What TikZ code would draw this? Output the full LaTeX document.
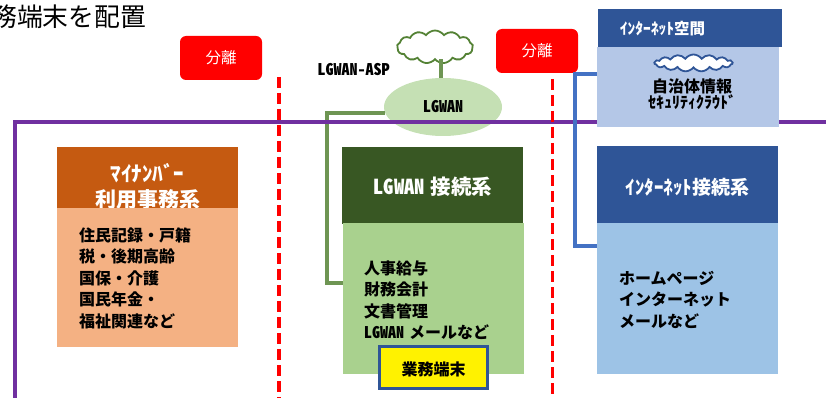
\documentclass[tikz,border=0pt]{standalone}
\usepackage{fontspec}
\usetikzlibrary{shapes.geometric,shapes.symbols}
\setmainfont{Noto Sans CJK JP}
\newfontfamily\jp[RawFeature=+hwid]{Noto Sans CJK JP}
\newcommand{\fs}[2]{\fontsize{#1}{#2}\selectfont}
\definecolor{purp}{HTML}{7030A0}
\definecolor{navy}{HTML}{2F5597}
\definecolor{dgreen}{HTML}{385723}
\definecolor{mgreen}{HTML}{548235}
\definecolor{lgreen}{HTML}{A9D18E}
\definecolor{pgreen}{HTML}{C5E0B4}
\definecolor{dorange}{HTML}{C55A11}
\definecolor{lorange}{HTML}{F4B183}
\definecolor{sky}{HTML}{B4C7E7}
\definecolor{lblue}{HTML}{9DC3E6}
\definecolor{cblue}{HTML}{4472C4}
\tikzset{
  box/.style={rectangle,draw=none,inner sep=0pt,outer sep=0pt},
  badge/.style={rectangle,rounded corners=6pt,fill=red,text=white,inner sep=0pt,minimum width=82pt,minimum height=44pt,font=\jp\fs{15.5}{15.5}},
  sep/.style={red,line width=3.4pt,dash pattern=on 11pt off 5pt},
  bodytxt/.style={anchor=north west,inner sep=0pt,align=left,text=black,font=\jp\bfseries\fs{16}{21.5}},
  headtxt/.style={inner sep=0pt,text=white,align=center,font=\jp\bfseries\fs{20.5}{25}},
  net/.style={cloud,cloud puffs=13,cloud puff arc=110,aspect=2.4,fill=white,inner sep=0pt,outer sep=0pt},
}
\begin{document}
\begin{tikzpicture}[x=1pt,y=-1pt]
\useasboundingbox (0,0) rectangle (826,398);
% title
\node[anchor=west,inner sep=0pt,font=\jp\fs{25.8}{26}] (title) at (-9,17) {務端末を配置};
% badges
\node[badge] (sep1) at (221,58) {\raisebox{1pt}{分離}};
\node[badge] (sep2) at (537,51) {\raisebox{1pt}{分離}};
% LGWAN network
\node[ellipse,fill=pgreen,draw=none,minimum width=118pt,minimum height=58pt,inner sep=0pt,outer sep=0pt] (lgwan) at (443,107) {};
\node[net,draw=mgreen,line width=1.8pt,minimum width=76pt,minimum height=33pt] (asp) at (435,47) {};
\coordinate (st) at (441,70);
\draw[mgreen!85!white,line width=4pt] (asp.south -| st) -- (lgwan.north -| st);
\node[inner sep=0pt,font=\jp\bfseries\fs{16}{16}] (lgwanlbl) at (443,107) {LGWAN};
\node[inner sep=0pt,font=\jp\bfseries\fs{16}{16}] (asplbl) at (353.5,70) {LGWAN-ASP};
% green connector
\coordinate (gturn) at (327,283);
\node[box,fill=lgreen,minimum width=181pt,minimum height=151pt] (gbody) at (433.5,298.5) {};
\draw[mgreen!85!white,line width=4pt] (lgwan.186) -| (gturn) -- (gbody.west |- gturn);
% boundary
\coordinate (pa) at (826,122);
\coordinate (pb) at (15,122);
\coordinate (pc) at (15,398);
\draw[purp,line width=4pt] (pa) -- (pb) -- (pc);
% separators
\coordinate (d1a) at (279,77);
\coordinate (d1b) at (279,398);
\coordinate (d2a) at (552.5,79);
\coordinate (d2b) at (552.5,398);
\draw[sep] (d1a) -- (d1b);
\draw[sep] (d2a) -- (d2b);
% my number
\node[box,fill=dorange,minimum width=181pt,minimum height=61pt] (ohead) at (147.5,177.5) {};
\node[headtxt,font=\jp\bfseries\fs{21}{26.5}] (ohtxt) at (147.5,186.5) {ﾏｲﾅﾝﾊﾞｰ\\利用事務系};
\node[box,fill=lorange,minimum width=181pt,minimum height=139pt] (obody) at (147.5,277.5) {};
\node[bodytxt] (otxt) at (79,227.5) {住民記録・戸籍\\税・後期高齢\\国保・介護\\国民年金・\\福祉関連など};
% LGWAN zone
\node[box,fill=dgreen,minimum width=181pt,minimum height=77pt] (ghead) at (432.5,185.5) {};
\node[box,fill=lgreen,minimum width=181pt,minimum height=151pt] (gbody2) at (433.5,298.5) {};
\node[headtxt] (ghtxt) at (433,187) {LGWAN\hspace{6pt}接続系};
\node[bodytxt] (gtxt) at (364,260.5) {人事給与\\財務会計\\文書管理\\LGWAN\hspace{5pt}メールなど};
\node[box,fill=yellow,draw=navy,line width=2.5pt,minimum width=108pt,minimum height=42pt] (term) at (433.5,367.5) {};
\node[inner sep=0pt,font=\jp\bfseries\fs{16}{16}] (termtxt) at (433.5,369) {業務端末};
% internet space
\node[box,fill=navy,minimum width=184pt,minimum height=38pt] (ihead) at (690,28) {};
\node[box,fill=sky,minimum width=182pt,minimum height=80pt] (ibody) at (688,87) {};
\node[inner sep=0pt,text=white,font=\jp\bfseries\fs{15.5}{16}] (ihtxt) at (662.5,29) {ｲﾝﾀｰﾈｯﾄ空間};
\node[net,draw=navy,line width=1.8pt,minimum width=78pt,minimum height=17pt,aspect=4.5,cloud puffs=15] (scloud) at (693.5,63) {};
\node[inner sep=0pt,align=center,text=black,font=\jp\bfseries\fs{16}{16}] (itxt) at (692,94) {自治体情報\\\fs{16}{16}ｾｷｭﾘﾃｨｸﾗｳﾄﾞ};
% blue connector
\coordinate (bt) at (575,74);
\coordinate (bb) at (575,246);
\node[box,fill=navy,minimum width=181pt,minimum height=77pt] (nhead) at (687.5,184.5) {};
\node[box,fill=lblue,minimum width=181pt,minimum height=151pt] (nbody) at (687.5,298.5) {};
\draw[cblue,line width=3.5pt] (ibody.west |- bt) -- (bt) -- (bb) -- (nbody.west |- bb);
\node[inner sep=0pt,text=white,font=\jp\bfseries\fs{19}{19}] (nhtxt) at (687.5,187) {ｲﾝﾀｰﾈｯﾄ接続系};
\node[bodytxt] (ntxt) at (619,271) {ホームページ\\インターネット\\メールなど};
\end{tikzpicture}
\end{document}
